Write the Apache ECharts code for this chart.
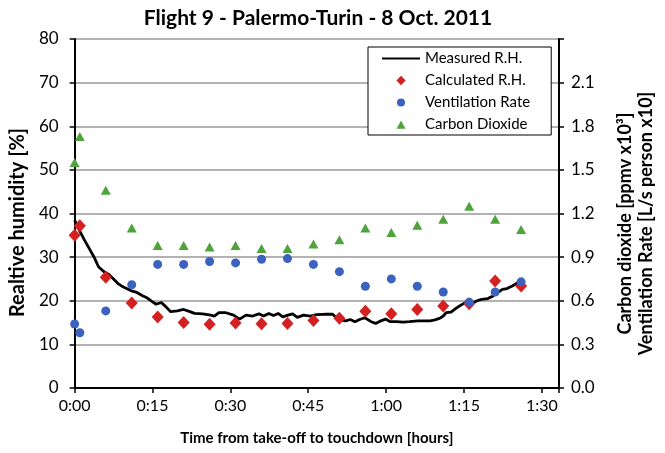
<!DOCTYPE html>
<html>
<head>
<meta charset="utf-8">
<script src="https://cdn.jsdelivr.net/npm/echarts@6/dist/echarts.min.js"></script>
<style>
html,body{margin:0;padding:0;background:#fff;}
#chart{width:665px;height:453px;}
</style>
</head>
<body>
<div id="chart"></div>
<script>
// ---- Data (time in minutes from take-off) ----
var sampleTimes = [0, 1, 6, 11, 16, 21, 26, 31, 36, 41, 46, 51, 56, 61, 66, 71, 76, 81, 86];
var calculatedRH = [35.0, 37.2, 25.4, 19.5, 16.3, 15.0, 14.6, 14.9, 14.7, 14.8, 15.5, 16.0, 17.6, 17.0, 18.0, 18.8, 19.3, 24.5, 23.4];
var ventilationRate = [0.44, 0.38, 0.53, 0.71, 0.85, 0.85, 0.87, 0.86, 0.885, 0.89, 0.85, 0.80, 0.70, 0.75, 0.70, 0.66, 0.59, 0.66, 0.73];
var carbonDioxide = [1.55, 1.73, 1.36, 1.10, 0.98, 0.98, 0.97, 0.98, 0.96, 0.96, 0.99, 1.02, 1.10, 1.07, 1.12, 1.16, 1.25, 1.16, 1.09];

var measuredTime = [0, 0.9, 1.9, 2.8, 3.7, 4.6, 5.6, 6.5, 7.4, 8.3, 9.3, 10.2, 11.1, 12.0, 13.0, 13.9, 14.8, 15.7, 16.7, 17.6, 18.5, 19.8, 21.0, 22.2, 23.1, 24.7, 26.2, 26.9, 27.8, 29.0, 30.6, 31.8, 33.0, 34.3, 35.5, 36.4, 37.4, 38.3, 39.2, 40.1, 41.1, 42.0, 42.9, 44.1, 45.4, 46.6, 48.1, 49.7, 50.9, 52.2, 53.1, 54.0, 54.9, 55.9, 57.1, 58.0, 59.0, 59.9, 60.8, 62.0, 63.3, 64.5, 66.1, 67.3, 68.5, 69.4, 70.4, 71.0, 71.6, 72.5, 73.5, 74.4, 75.3, 76.5, 77.5, 78.4, 79.6, 80.6, 81.5, 82.4, 83.3, 84.3, 85.2, 85.6];
var measuredRH = [38.5, 36.2, 33.9, 32.0, 30.1, 27.8, 26.7, 26.1, 25.1, 24.0, 23.2, 22.7, 22.2, 21.9, 21.2, 20.7, 19.9, 19.2, 19.6, 18.6, 17.5, 17.7, 18.0, 17.5, 17.1, 17.0, 16.7, 16.5, 17.3, 17.3, 16.7, 15.8, 16.7, 16.5, 17.0, 16.5, 17.1, 16.6, 17.1, 16.3, 16.7, 17.0, 16.2, 16.7, 16.5, 16.8, 16.9, 16.9, 15.6, 15.4, 15.7, 15.2, 15.7, 16.1, 15.2, 14.8, 15.4, 15.8, 15.2, 15.2, 15.1, 15.2, 15.4, 15.4, 15.4, 15.6, 16.0, 16.5, 17.3, 17.4, 18.3, 19.0, 19.6, 19.3, 20.0, 20.3, 20.5, 21.1, 21.9, 22.6, 22.8, 23.4, 24.0, 24.4];

var seriesNames = ['Measured R.H.', 'Calculated R.H.', 'Ventilation Rate', 'Carbon Dioxide'];

function zip(xs, ys) { return xs.map(function (x, i) { return [x, ys[i]]; }); }

// legend icons padded to a 38x10 box so they are drawn small and centred
var ICON_DIAMOND = 'path://M0,0M38,10M19,0.3L23.6,5L19,9.7L14.4,5Z';
var ICON_CIRCLE = 'path://M0,0M38,10M15,5A4,4 0 1,1 23,5A4,4 0 1,1 15,5Z';
var ICON_TRIANGLE = 'path://M0,0M38,10M19,1L23.5,9.3L14.5,9.3Z';

var FONT = 'Lato';
var RED = '#d42020', BLUE = '#3c62c0', GREEN = '#4ea33b';
var chart = echarts.init(document.getElementById('chart'), null, {renderer: 'canvas'});
chart.setOption({
  animation: false,
  backgroundColor: '#fff',
  textStyle: {fontFamily: FONT},
  title: {
    text: 'Flight 9 - Palermo-Turin - 8 Oct. 2011',
    left: 313, top: 3, textAlign: 'center',
    textStyle: {fontFamily: FONT, fontSize: 21, fontWeight: 'bold', color: '#000'}
  },
  grid: {left: 70, right: 91, top: 39, bottom: 65, containLabel: false},
  legend: {
    orient: 'vertical',
    left: 368, top: 47,
    padding: [4, 21, 3, 13],
    itemGap: 7,
    itemWidth: 38, itemHeight: 10,
    borderColor: '#000', borderWidth: 1,
    backgroundColor: '#fff',
    data: [
      {name: seriesNames[0], itemStyle: {opacity: 0}},
      {name: seriesNames[1], icon: ICON_DIAMOND},
      {name: seriesNames[2], icon: ICON_CIRCLE},
      {name: seriesNames[3], icon: ICON_TRIANGLE}
    ],
    textStyle: {fontFamily: FONT, fontSize: 15, color: '#000', lineHeight: 14}
  },
  xAxis: {
    type: 'value', min: 0, max: 93.3, interval: 15,
    name: 'Time from take-off to touchdown [hours]',
    nameLocation: 'middle', nameGap: 43,
    nameTextStyle: {fontFamily: FONT, fontSize: 15, fontWeight: 'bold', color: '#000'},
    axisLine: {show: true, lineStyle: {color: '#000', width: 2}},
    axisTick: {show: true, length: 5, lineStyle: {color: '#000', width: 1.5}},
    axisLabel: {
      fontFamily: FONT, fontSize: 16, color: '#000', margin: 10,
      formatter: function (v) {
        if (Math.abs(v % 15) > 1e-6) return '';
        var h = Math.floor(v / 60), m = Math.round(v - h * 60);
        return h + ':' + (m < 10 ? '0' : '') + m;
      }
    },
    splitLine: {show: false}
  },
  yAxis: [{
    type: 'value', min: 0, max: 80, interval: 10,
    name: 'Realtive humidity [%]',
    nameLocation: 'middle', nameGap: 41, nameRotate: 90,
    nameTextStyle: {fontFamily: FONT, fontSize: 20, fontWeight: 'bold', color: '#000', padding: [0, 18, 0, 0]},
    axisLine: {show: true, lineStyle: {color: '#000', width: 2}},
    axisTick: {show: true, length: 5, lineStyle: {color: '#000', width: 1.5}},
    axisLabel: {fontFamily: FONT, fontSize: 17, color: '#000', margin: 16},
    splitLine: {show: true, lineStyle: {color: '#999', width: 1.5}}
  }, {
    type: 'value', min: 0, max: 2.4, interval: 0.3, position: 'right',
    name: 'Carbon dioxide [ppmv x10³]\nVentilation Rate [L/s person x10]',
    nameLocation: 'middle', nameGap: 56, nameRotate: 90,
    nameTextStyle: {fontFamily: FONT, fontSize: 18, fontWeight: 'bold', color: '#000', lineHeight: 21, padding: [0, 20, 0, 0]},
    axisLine: {show: true, lineStyle: {color: '#000', width: 2}},
    axisTick: {show: true, length: 5, lineStyle: {color: '#000', width: 1.5}},
    axisLabel: {
      fontFamily: FONT, fontSize: 17, color: '#000', margin: 12,
      formatter: function (v) { return v > 2.35 ? '' : v.toFixed(1); }
    },
    splitLine: {show: false}
  }],
  series: [{
    name: seriesNames[0], type: 'line', yAxisIndex: 0,
    data: zip(measuredTime, measuredRH),
    symbol: 'none', smooth: false,
    lineStyle: {color: '#000', width: 2.8},
    itemStyle: {color: '#000'},
    z: 3
  }, {
    name: seriesNames[1], type: 'scatter', yAxisIndex: 0,
    data: zip(sampleTimes, calculatedRH),
    symbol: 'diamond', symbolSize: [12, 13],
    itemStyle: {color: RED, opacity: 1},
    z: 4
  }, {
    name: seriesNames[2], type: 'scatter', yAxisIndex: 1,
    data: zip(sampleTimes, ventilationRate),
    symbol: 'circle', symbolSize: 9,
    itemStyle: {color: BLUE, opacity: 1},
    z: 5
  }, {
    name: seriesNames[3], type: 'scatter', yAxisIndex: 1,
    data: zip(sampleTimes, carbonDioxide),
    symbol: 'triangle', symbolSize: [10, 9],
    itemStyle: {color: GREEN, opacity: 1},
    z: 5
  }]
});
</script>
</body>
</html>
